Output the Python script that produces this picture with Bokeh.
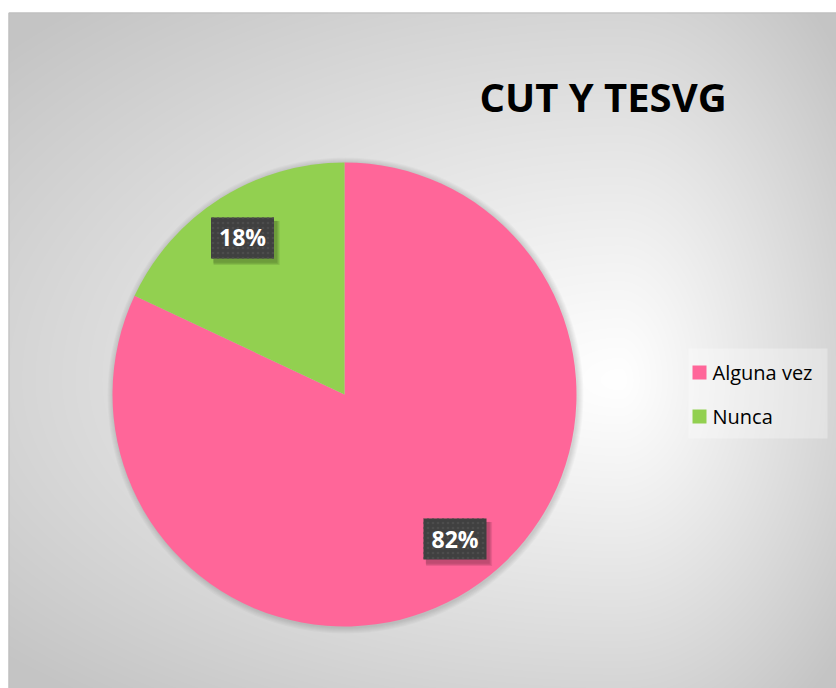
import numpy as np
from bokeh.plotting import figure
from bokeh.models import ColumnDataSource, Range1d
from bokeh.core.properties import value
from bokeh.embed import file_html
from bokeh.resources import INLINE

# ---- data ----
title = "CUT Y TESVG"
categories = ["Alguna vez", "Nunca"]
percent = [82, 18]
colors = ["#FF6699", "#92D050"]
labels = ["82%", "18%"]

# ---- layout constants (data units == page pixels, y flipped) ----
W, H = 836, 688
AX0, AY_TOP = 8, 12          # chart area left / top edge on page
CX, CY, R = 344, 688 - 394, 232
LABEL_POS = [(454.5, 688 - 538.5), (242.0, 688 - 237.5)]
LABEL_TXT_Y = [688 - 538, 688 - 236]
BOX_W, BOX_H = 63, 41

p = figure(width=W, height=H, x_range=Range1d(0, W), y_range=Range1d(0, H),
           output_backend="svg", toolbar_location=None, min_border=0)
p.axis.visible = False
p.grid.visible = False
p.outline_line_color = None
p.background_fill_color = "white"
p.border_fill_color = "white"

# background gradient
aw, ah = W - AX0, H - AY_TOP
jj, ii = np.meshgrid(np.arange(aw), np.arange(ah))
px = jj + AX0 + 0.5
py = H - (ii + 0.5)
gx, gy = 620.0, 380.0
sx = np.where(px < gx, gx - AX0, W - gx)
sy = np.where(py < gy, gy - AY_TOP, H - gy)
t = np.sqrt(((px - gx) / sx) ** 2 + ((py - gy) / sy) ** 2)
g = 255 - 42 * np.clip(t, 0, 1.35) ** 1.1
g = np.clip(g, 0, 255).astype(np.uint32)
img = (255 << 24) | (g << 16) | (g << 8) | g
p.image_rgba(image=[img.astype(np.uint32)], x=AX0, y=0, dw=aw, dh=ah)
p.quad(left=AX0 + 0.5, right=W + 2, bottom=-2, top=ah - 0.5,
       fill_color=None, line_color="#bdbdbd", line_width=1)

# pie shadow
for k in range(1, 7):
    p.circle(x=CX + 1, y=CY - 1, radius=R + k, fill_color="black",
             fill_alpha=0.025, line_color=None)

# wedges
vals = np.array(percent, dtype=float)
frac = vals / vals.sum()
ends = np.pi / 2 - np.concatenate([[0], np.cumsum(frac)[:-1]]) * 2 * np.pi
starts = ends - frac * 2 * np.pi
src = ColumnDataSource(dict(start=starts, end=ends, color=colors, cat=categories))
p.wedge(x=CX, y=CY, radius=R, start_angle="start", end_angle="end",
        fill_color="color", line_color=None, source=src)

# data labels
lx = [q[0] for q in LABEL_POS]
ly = [q[1] for q in LABEL_POS]
for k in range(1, 4):
    p.rect(x=[x + 2 + k * 0.7 for x in lx], y=[y - 3 - k * 0.7 for y in ly],
           width=BOX_W + k, height=BOX_H + k, fill_color="black",
           fill_alpha=0.09, line_color=None)
p.rect(x=lx, y=ly, width=BOX_W, height=BOX_H, fill_color="#404040",
       line_color=None, hatch_pattern="dot", hatch_color="#4c4c4c",
       hatch_scale=5, hatch_weight=1.1)
p.text(x=lx, y=LABEL_TXT_Y, text=labels, text_color="white",
       text_font=value("Open Sans"), text_font_style="bold",
       text_font_size="23px", text_align="center", text_baseline="middle")

# title
p.text(x=[602.5], y=[688 - 96], text=[title], text_color="black",
       text_font=value("Open Sans"), text_font_style="bold",
       text_font_size="40px", text_align="center", text_baseline="middle")

# legend
p.rect(x=[757.5], y=[688 - 393], width=139, height=90, fill_color="white",
       fill_alpha=0.3, line_color=None)
ly0, dy = 688 - 372, 44
sq_y = [ly0 - i * dy for i in range(len(categories))]
p.rect(x=[699] * len(categories), y=sq_y, width=14, height=14,
       fill_color=colors, line_color=None)
p.text(x=[712] * len(categories), y=sq_y, text=categories,
       text_color="black", text_font=value("Open Sans"), text_font_size="20px",
       text_align="left", text_baseline="middle")

open("out.html", "w").write(file_html(p, INLINE))
